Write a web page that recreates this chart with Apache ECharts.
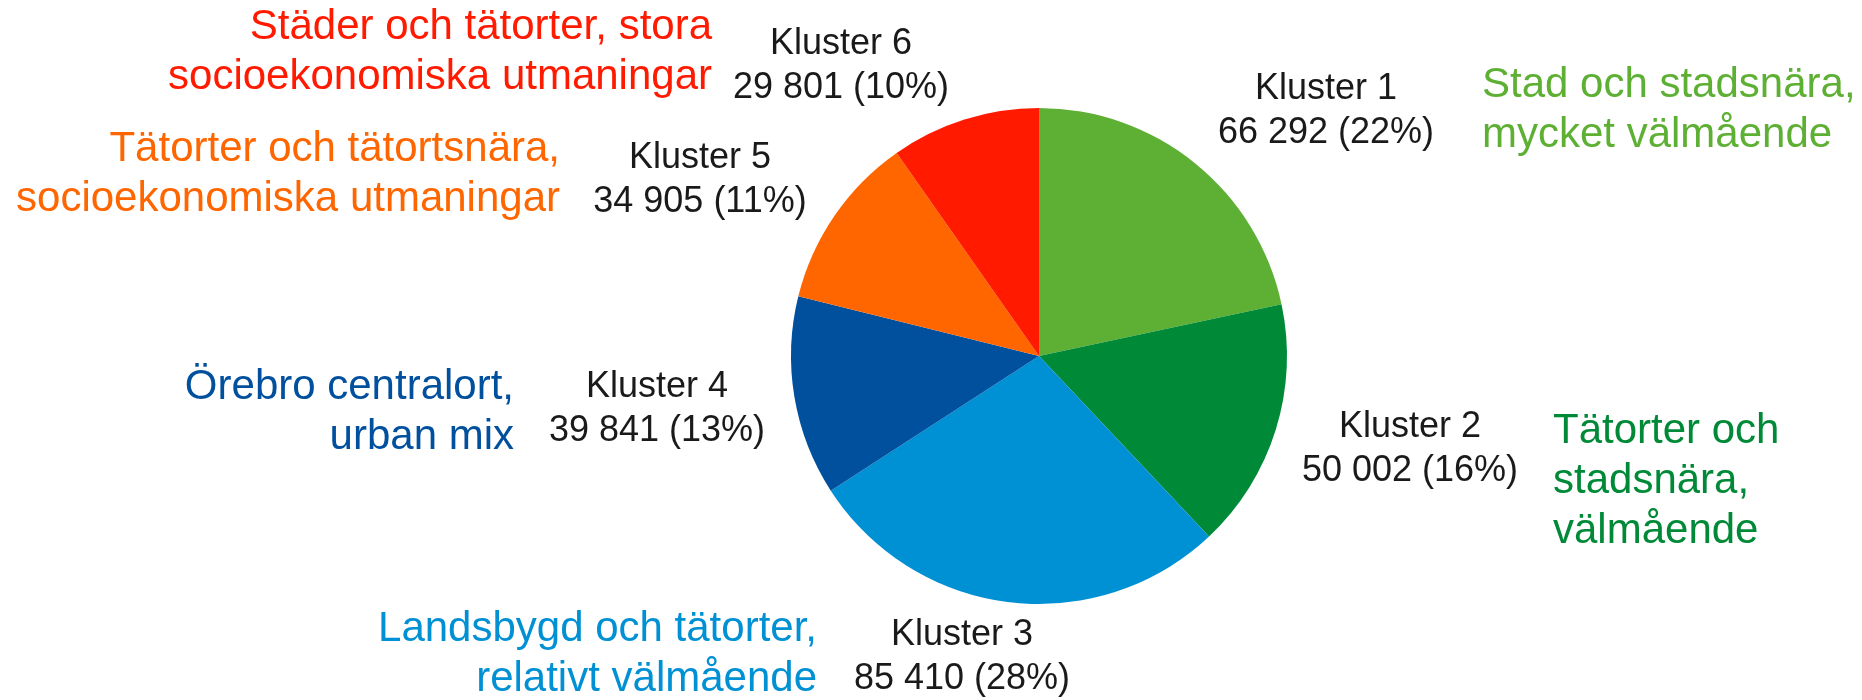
<!DOCTYPE html>
<html>
<head>
<meta charset="utf-8">
<script src="https://cdn.jsdelivr.net/npm/echarts@6/dist/echarts.min.js"></script>
<style>
html, body { margin: 0; padding: 0; background: #fff; }
#chart { width: 1862px; height: 700px; }
</style>
</head>
<body>
<div id="chart"></div>
<script>
// data
var clusters = ['Kluster 1', 'Kluster 2', 'Kluster 3', 'Kluster 4', 'Kluster 5', 'Kluster 6'];
var counts = [66292, 50002, 85410, 39841, 34905, 29801];
var descriptions = [
    'Stad och stadsnära,\nmycket välmående',
    'Tätorter och\nstadsnära,\nvälmående',
    'Landsbygd och tätorter,\nrelativt välmående',
    'Örebro centralort,\nurban mix',
    'Tätorter och tätortsnära,\nsocioekonomiska utmaningar',
    'Städer och tätorter, stora\nsocioekonomiska utmaningar'
];
var colors = ['#5DB034', '#008A38', '#0090D4', '#00509E', '#FF6600', '#FF1A00'];

// label placement (layout only)
var clusterLabelPos = [[1326, 111], [1410, 449], [962, 657], [657, 409], [700, 180], [841, 66]];
var descPos = [[1482, 110, 'left'], [1553, 481, 'left'], [817, 654, 'right'], [514, 412, 'right'], [560, 174, 'right'], [712, 52, 'right']];

var total = counts.reduce(function (a, b) { return a + b; }, 0);
function fmt(n) {
    return String(n).replace(/\B(?=(\d{3})+(?!\d))/g, ' ');
}

var myChart = echarts.init(document.getElementById('chart'));

var graphics = descriptions.map(function (txt, i) {
    return {
        type: 'text',
        x: descPos[i][0],
        y: descPos[i][1],
        style: {
            text: txt,
            fill: colors[i],
            font: '42px "Liberation Sans", Arial, sans-serif',
            lineHeight: 50,
            textAlign: descPos[i][2],
            textVerticalAlign: 'middle'
        }
    };
});

var option = {
    animation: false,
    backgroundColor: '#fff',
    graphic: graphics,
    series: [{
        type: 'pie',
        center: [1039, 356],
        radius: 248,
        startAngle: 90,
        clockwise: true,
        data: clusters.map(function (name, i) {
            return { name: name, value: counts[i], itemStyle: { color: colors[i] } };
        }),
        label: {
            show: true,
            color: '#1a1a1a',
            fontFamily: '"Liberation Sans", Arial, sans-serif',
            fontSize: 36,
            lineHeight: 44,
            align: 'center',
            formatter: function (p) {
                return p.name + '\n' + fmt(p.value) + ' (' + Math.round(p.value / total * 100) + '%)';
            }
        },
        labelLine: { show: false },
        labelLayout: function (params) {
            var pos = clusterLabelPos[params.dataIndex];
            return { x: pos[0], y: pos[1], align: 'center', verticalAlign: 'middle' };
        },
        emphasis: { disabled: true }
    }]
};
myChart.setOption(option);
</script>
</body>
</html>
